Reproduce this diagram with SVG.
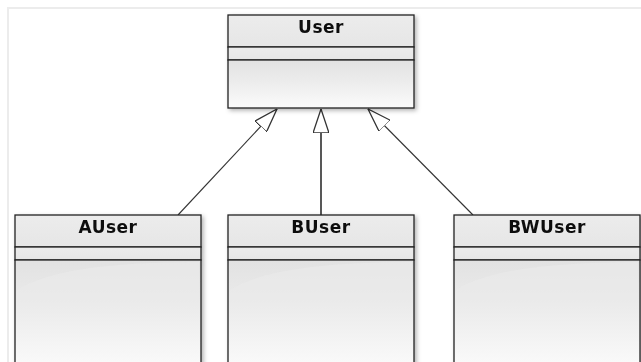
<svg xmlns="http://www.w3.org/2000/svg" width="641" height="362" viewBox="0 0 641 362">
  <style>
    .frame { fill: none; stroke: #ececec; stroke-width: 2; }
    .box { stroke: #222; stroke-width: 1.3; }
    .head { fill: url(#headFill); }
    .body { fill: url(#bodyFill); }
    .gloss { fill: #eaeaea; opacity: 0.7; }
    .title { font-family: "DejaVu Sans", Verdana, sans-serif; font-weight: bold; font-size: 17px; letter-spacing: 0.5px; fill: #111; text-anchor: middle; }
    .edge { stroke: #333; stroke-width: 1.1; fill: none; marker-end: url(#hollowTri); }
    .edge.straight { stroke: #111; stroke-width: 1.4; }
  </style>
  <defs>
    <linearGradient id="headFill" x1="0" y1="0" x2="0" y2="1">
      <stop offset="0" stop-color="#ececec"/>
      <stop offset="1" stop-color="#e6e6e6"/>
    </linearGradient>
    <linearGradient id="bodyFill" x1="0" y1="0" x2="0" y2="1">
      <stop offset="0" stop-color="#e2e2e2"/>
      <stop offset="0.45" stop-color="#ececec"/>
      <stop offset="1" stop-color="#fbfbfb"/>
    </linearGradient>
    <filter id="shadow" x="-10%" y="-10%" width="125%" height="125%">
      <feDropShadow dx="2" dy="2" stdDeviation="2" flood-color="#000" flood-opacity="0.3"/>
    </filter>
    <marker id="hollowTri" viewBox="0 0 24 16" refX="24" refY="8" markerWidth="24" markerHeight="16" markerUnits="userSpaceOnUse" orient="auto">
      <path d="M0,0 L24,8 L0,16 Z" fill="#fff" stroke="#333" stroke-width="1.3"/>
    </marker>
  </defs>

  <rect width="641" height="362" fill="#fff"/>
  <path class="frame" d="M8,362 V8 H641"/>

  <g id="connectors">
    <line class="edge" x1="178" y1="215" x2="277" y2="109"/>
    <line class="edge straight" x1="321" y1="215" x2="321" y2="109"/>
    <line class="edge" x1="473" y1="215" x2="368" y2="109"/>
  </g>

  <g id="User" filter="url(#shadow)">
    <rect class="head box" x="228" y="15" width="186" height="32"/>
    <rect class="head box" x="228" y="47" width="186" height="13"/>
    <rect class="body box" x="228" y="60" width="186" height="48"/>
    <text class="title" x="321" y="33">User</text>
  </g>

  <g id="AUser" filter="url(#shadow)">
    <rect class="head box" x="15" y="215" width="186" height="32"/>
    <rect class="head box" x="15" y="247" width="186" height="13"/>
    <rect class="body box" x="15" y="260" width="186" height="110"/>
    <path class="gloss" d="M17,290 Q60,262 199,262 V300 H17 Z"/>
    <text class="title" x="108" y="233">AUser</text>
  </g>

  <g id="BUser" filter="url(#shadow)">
    <rect class="head box" x="228" y="215" width="186" height="32"/>
    <rect class="head box" x="228" y="247" width="186" height="13"/>
    <rect class="body box" x="228" y="260" width="186" height="110"/>
    <path class="gloss" d="M230,290 Q273,262 412,262 V300 H230 Z"/>
    <text class="title" x="321" y="233">BUser</text>
  </g>

  <g id="BWUser" filter="url(#shadow)">
    <rect class="head box" x="454" y="215" width="186" height="32"/>
    <rect class="head box" x="454" y="247" width="186" height="13"/>
    <rect class="body box" x="454" y="260" width="186" height="110"/>
    <path class="gloss" d="M456,290 Q499,262 638,262 V300 H456 Z"/>
    <text class="title" x="547" y="233">BWUser</text>
  </g>
</svg>
